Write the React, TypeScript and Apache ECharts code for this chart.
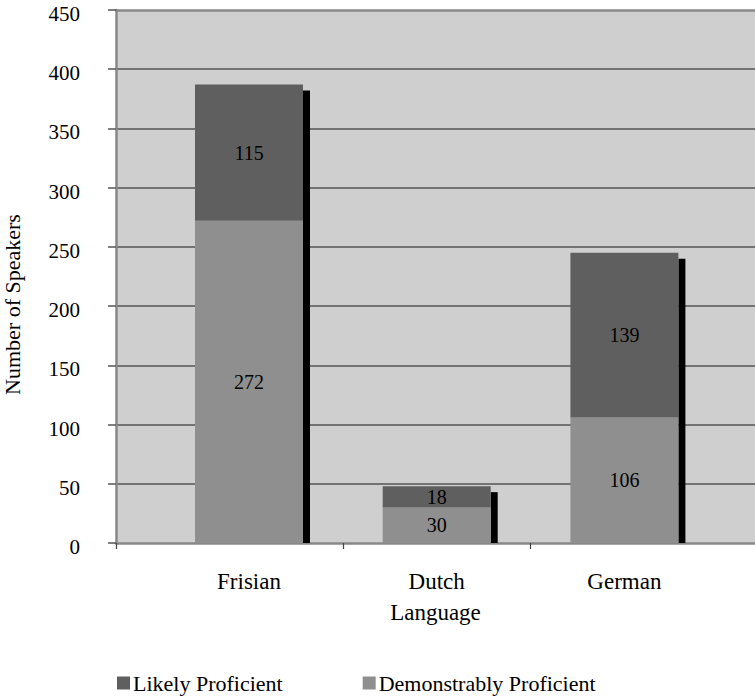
import React, { useEffect, useRef } from "react";
import * as echarts from "echarts";

// Languages on the horizontal axis
const categories = ["Frisian", "Dutch", "German"];
// Speakers per language, by proficiency level
const demonstrablyProficient = [272, 30, 106];
const likelyProficient = [115, 18, 139];
// Vertical axis range
const yMin = 0;
const yMax = 450;
const yStep = 50;

const FONT = "Liberation Serif";
const BAR_WIDTH = 108;

export default function App() {
  const ref = useRef<HTMLDivElement>(null);

  useEffect(() => {
    if (!ref.current) return;
    const chart = echarts.init(ref.current, undefined, { renderer: "svg" });

    // each language sits at an integer position on the horizontal value axis
    const positions = categories.map((_, i) => i + 1);
    const totals = positions.map((p, i) => [p, demonstrablyProficient[i] + likelyProficient[i]]);
    const xMin = 0.2914;
    const xMax = 3.6958;

    // one stacked segment: [position, base, value]
    const segment = (_params: any, api: any) => {
      const x = api.value(0);
      const base = api.value(1);
      const value = api.value(2);
      const bottom = api.coord([x, base]);
      const top = api.coord([x, base + value]);
      return {
        type: "rect",
        shape: {
          x: bottom[0] - BAR_WIDTH / 2,
          y: top[1],
          width: BAR_WIDTH,
          height: bottom[1] - top[1],
        },
        style: { fill: api.visual("color") },
        textContent: {
          style: {
            text: String(value),
            fontFamily: FONT,
            fontSize: 20,
            fill: "#000",
          },
        },
        textConfig: { position: "inside" },
      };
    };

    chart.setOption({
      animation: false,
      textStyle: { fontFamily: FONT, color: "#000" },
      grid: {
        left: 116,
        right: 0,
        top: 10,
        bottom: 153,
        outerBoundsMode: "none",
        containLabel: false,
        show: true,
        backgroundColor: "#cfcfcf",
        borderWidth: 0,
      },
      legend: {
        left: 112,
        top: 667,
        itemWidth: 13,
        itemHeight: 13,
        itemGap: 80,
        icon: "rect",
        data: ["Likely Proficient", "Demonstrably Proficient"],
        textStyle: { fontFamily: FONT, fontSize: 22, color: "#000", padding: [0, 0, 0, -2] },
      },
      xAxis: [
        {
          type: "value",
          min: xMin,
          max: xMax,
          splitLine: { show: false },
          axisLine: { show: true, lineStyle: { color: "#888", width: 2.5 } },
          axisTick: {
            show: true,
            customValues: [xMin, 1.5, 2.5],
            length: 6,
            lineStyle: { color: "#444", width: 1.2 },
          },
          axisLabel: {
            customValues: positions,
            formatter: (v: number) => categories[Math.round(v) - 1] ?? "",
            fontFamily: FONT,
            fontSize: 23,
            color: "#000",
            margin: 27,
          },
          name: "Language",
          nameLocation: "middle",
          nameGap: 58,
          nameTextStyle: { fontFamily: FONT, fontSize: 23, color: "#000" },
        },
        {
          type: "value",
          position: "top",
          min: xMin,
          max: xMax,
          splitLine: { show: false },
          axisLine: { show: true, lineStyle: { color: "#888", width: 2.5 } },
          axisTick: { show: false },
          axisLabel: { show: false },
        },
      ],
      yAxis: {
        type: "value",
        min: yMin,
        max: yMax,
        interval: yStep,
        axisLine: { show: true, lineStyle: { color: "#888", width: 2.5 } },
        axisTick: { show: true, length: 8, lineStyle: { color: "#555", width: 1.5 } },
        axisLabel: {
          margin: 36,
          formatter: "{v|{value}}",
          rich: {
            v: {
              fontFamily: FONT,
              fontSize: 21,
              color: "#000",
              padding: [8, 0, 0, 0],
            },
          },
        },
        splitLine: {
          show: true,
          showMinLine: false,
          showMaxLine: false,
          lineStyle: { color: "#555", width: 1.6 },
        },
        name: "Number of Speakers",
        nameLocation: "middle",
        nameGap: 93,
        nameTextStyle: { fontFamily: FONT, fontSize: 22, color: "#000", padding: [0, 56, 0, 0] },
      },
      series: [
        {
          // black drop shadow on the right side of each stacked column
          type: "custom",
          silent: true,
          z: 1,
          data: totals,
          renderItem: (_params: any, api: any) => {
            const top = api.coord([api.value(0), api.value(1)]);
            const base = api.coord([api.value(0), 0]);
            return {
              type: "rect",
              shape: {
                x: top[0] + BAR_WIDTH / 2,
                y: top[1] + 6,
                width: 7,
                height: base[1] - top[1] - 6,
              },
              style: { fill: "#000" },
            };
          },
        },
        {
          name: "Demonstrably Proficient",
          type: "custom",
          z: 2,
          itemStyle: { color: "#8f8f8f" },
          renderItem: segment,
          encode: { x: 0, y: 2 },
          data: positions.map((p, i) => [p, 0, demonstrablyProficient[i]]),
        },
        {
          name: "Likely Proficient",
          type: "custom",
          z: 2,
          itemStyle: { color: "#5f5f5f" },
          renderItem: segment,
          encode: { x: 0, y: 2 },
          data: positions.map((p, i) => [p, demonstrablyProficient[i], likelyProficient[i]]),
        },
      ],
    });

    return () => chart.dispose();
  }, []);

  return (
    <div
      ref={ref}
      style={{ position: "fixed", left: 0, top: 0, width: 755, height: 696, background: "#fff" }}
    />
  );
}
